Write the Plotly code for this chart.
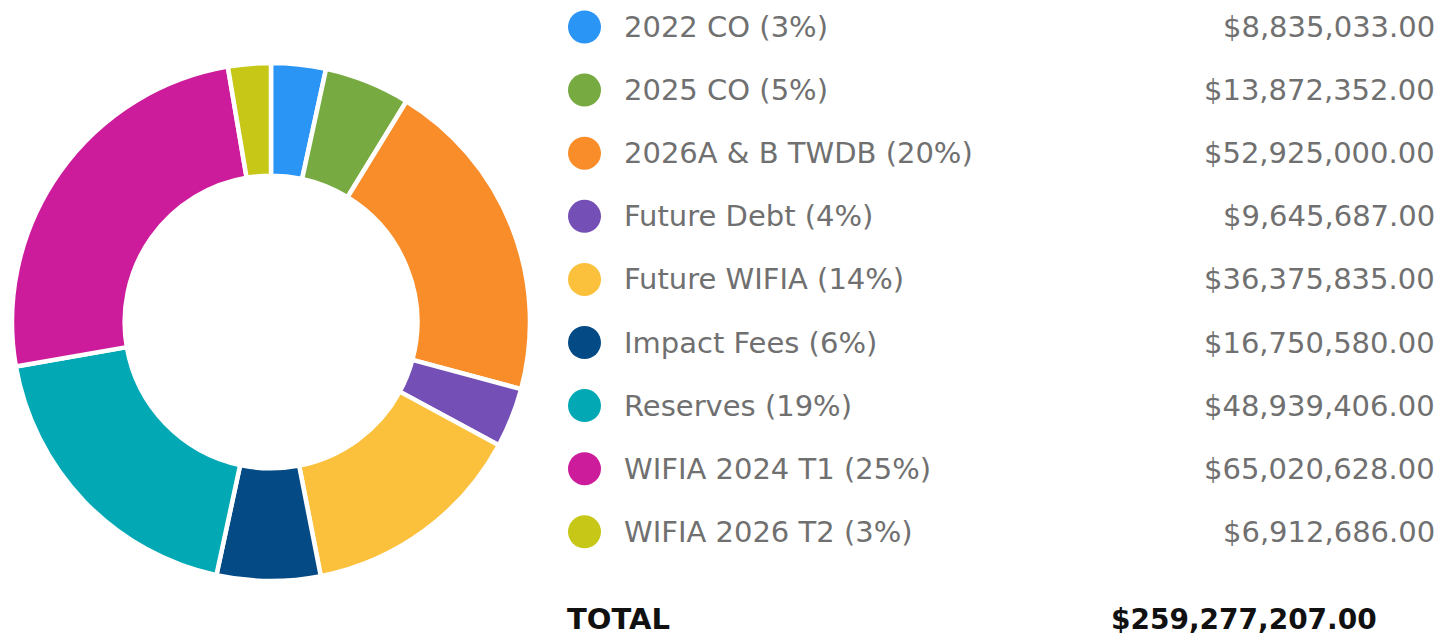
import plotly.graph_objects as go

# Funding sources for the capital programme
sources = [
    "2022 CO",
    "2025 CO",
    "2026A & B TWDB",
    "Future Debt",
    "Future WIFIA",
    "Impact Fees",
    "Reserves",
    "WIFIA 2024 T1",
    "WIFIA 2026 T2",
]
amounts = [
    8835033.00,
    13872352.00,
    52925000.00,
    9645687.00,
    36375835.00,
    16750580.00,
    48939406.00,
    65020628.00,
    6912686.00,
]
colors = [
    "#2B95F6",
    "#77AB42",
    "#F88D2A",
    "#744FB6",
    "#FBC13C",
    "#044A85",
    "#02A9B4",
    "#CC1C9C",
    "#C6C716",
]

W, H = 1452, 639
total = sum(amounts)


def px(x):
    return x / W


def py(y):
    return 1 - y / H


fig = go.Figure()

# Donut: slices run clockwise from 12 o'clock in list order
fig.add_trace(go.Pie(
    labels=sources,
    values=amounts,
    sort=False,
    direction="clockwise",
    rotation=0,
    hole=0.565,
    textinfo="none",
    hoverinfo="label+value+percent",
    marker=dict(colors=colors, line=dict(color="white", width=4.5)),
    domain=dict(x=[px(12), px(530)], y=[py(581), py(63)]),
    showlegend=False,
))

shapes = []
annotations = []
row0, step = 27, 63.1
font_reg = "DejaVu Sans"
for i, (name, amt, col) in enumerate(zip(sources, amounts, colors)):
    yc = row0 + i * step
    pct = round(amt / total * 100)
    shapes.append(dict(
        type="circle", xref="paper", yref="paper",
        x0=px(568), x1=px(601), y0=py(yc + 16.5), y1=py(yc - 16.5),
        fillcolor=col, line=dict(width=0),
    ))
    annotations.append(dict(
        x=px(622), y=py(yc), xref="paper", yref="paper",
        xanchor="left", yanchor="middle", showarrow=False,
        text=f"{name} ({pct}%)",
        font=dict(family=font_reg, size=29, color="#707070"),
    ))
    annotations.append(dict(
        x=px(1437), y=py(yc), xref="paper", yref="paper",
        xanchor="right", yanchor="middle", showarrow=False,
        text=f"${amt:,.2f}",
        font=dict(family=font_reg, size=29, color="#707070"),
    ))

annotations.append(dict(
    x=px(565), y=py(619), xref="paper", yref="paper",
    xanchor="left", yanchor="middle", showarrow=False,
    text="<b>TOTAL</b>",
    font=dict(family="DejaVu Sans", size=29, color="#111111"),
))
annotations.append(dict(
    x=px(1379), y=py(619), xref="paper", yref="paper",
    xanchor="right", yanchor="middle", showarrow=False,
    text=f"<b>${total:,.2f}</b>",
    font=dict(family="DejaVu Sans", size=28, color="#111111"),
))

fig.update_layout(
    width=W,
    height=H,
    margin=dict(l=0, r=0, t=0, b=0),
    paper_bgcolor="white",
    plot_bgcolor="white",
    shapes=shapes,
    annotations=annotations,
)

fig.write_html("out.html", config={"displayModeBar": False})
